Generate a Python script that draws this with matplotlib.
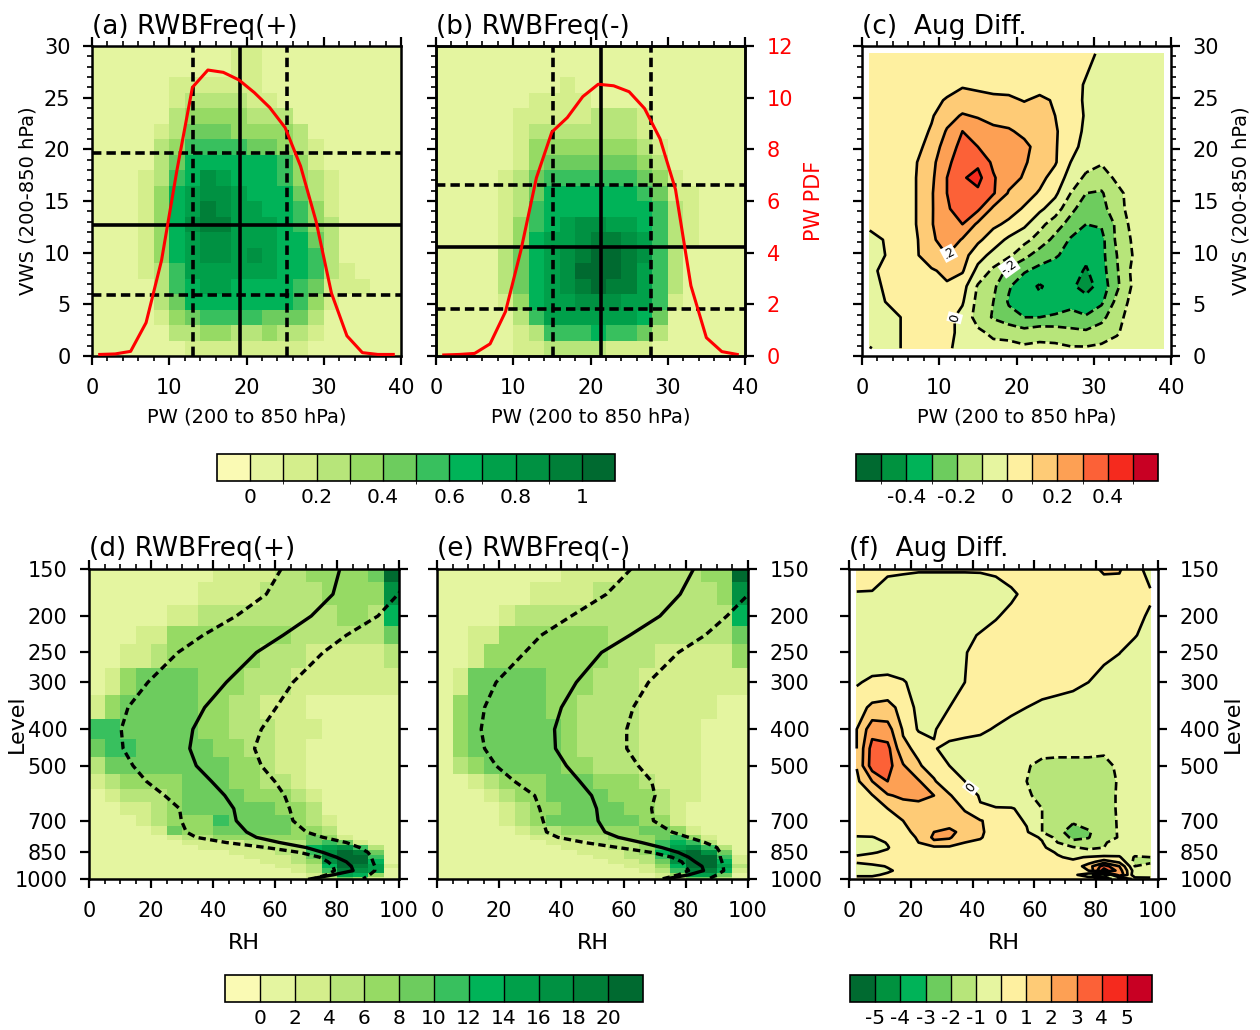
import numpy as np
import matplotlib
matplotlib.use('Agg')
import matplotlib as mpl
import matplotlib.pyplot as plt
from matplotlib.colors import ListedColormap, BoundaryNorm
from matplotlib.ticker import MultipleLocator, FixedLocator, FixedFormatter, NullLocator

plt.rcParams['font.family'] = ['DejaVu Sans']
plt.rcParams['lines.dashed_pattern'] = [3.2, 1.6]

# ---------------- data: PW / VWS panels (a)-(c) ----------------
pw_edges = np.arange(0, 41, 2)
vws_edges_desc = np.arange(30, -0.1, -1.5)          # rows written top -> bottom
pw_centers = np.arange(1, 40, 2)
vws_centers_desc = np.arange(29.25, 0, -1.5)

# RWB frequency (percent), rows from VWS 30 (top) to 0 (bottom)
freq_a_pct = np.array([
    [5,5,5,5,5,5,5,5,5,15,15,5,5,5,5,5,5,5,5,5],
    [5,5,5,5,5,5,5,5,5,15,15,5,5,5,5,5,5,5,5,5],
    [5,5,5,5,5,15,15,15,15,15,15,5,5,5,5,5,5,5,5,5],
    [5,5,5,5,5,15,25,25,25,25,15,15,5,5,5,5,5,5,5,5],
    [5,5,5,5,5,25,35,35,35,35,25,25,25,5,5,5,5,5,5,5],
    [5,5,5,5,15,25,45,45,45,35,35,35,35,25,5,5,5,5,5,5],
    [5,5,5,5,25,35,55,55,55,55,45,45,35,25,15,5,5,5,5,5],
    [5,5,5,5,25,45,65,65,65,65,65,65,55,35,15,5,5,5,5,5],
    [5,5,5,15,25,55,65,85,75,65,65,65,55,35,25,15,5,5,5,5],
    [5,5,5,15,35,65,75,85,85,75,65,65,65,45,25,15,5,5,5,5],
    [5,5,5,15,35,65,75,95,85,75,75,65,65,55,35,15,5,5,5,5],
    [5,5,5,15,35,65,85,95,95,75,75,75,65,55,35,25,5,5,5,5],
    [5,5,5,15,35,65,75,85,85,75,75,75,65,65,45,25,5,5,5,5],
    [5,5,5,15,35,65,75,85,85,75,85,75,65,65,55,25,5,5,5,5],
    [5,5,5,15,25,55,75,75,75,75,75,75,65,65,55,25,15,5,5,5],
    [5,5,5,5,25,55,65,75,75,65,65,65,65,55,45,15,15,15,5,5],
    [5,5,5,5,25,45,65,65,65,65,65,65,65,55,35,15,5,5,5,5],
    [5,5,5,5,15,35,45,55,55,55,55,45,45,45,25,5,5,5,5,5],
    [5,5,5,5,5,25,25,35,35,25,25,35,25,25,15,5,5,5,5,5],
    [5,5,5,5,5,5,15,15,15,15,15,15,15,15,5,5,5,5,5,5],
])
freq_b_pct = np.array([
    [5,5,5,5,5,5,5,5,5,5,5,5,5,5,5,5,5,5,5,5],
    [5,5,5,5,5,5,5,5,5,5,5,5,5,5,5,5,5,5,5,5],
    [5,5,5,5,5,5,5,5,15,5,5,5,5,5,5,5,5,5,5,5],
    [5,5,5,5,5,5,15,15,15,15,5,5,5,5,5,5,5,5,5,5],
    [5,5,5,5,5,15,15,15,15,15,25,25,25,15,5,5,5,5,5,5],
    [5,5,5,5,5,15,25,25,25,25,25,25,25,15,5,5,5,5,5,5],
    [5,5,5,5,5,15,35,35,35,35,35,35,35,25,15,5,5,5,5,5],
    [5,5,5,5,5,15,35,45,45,45,45,45,45,35,25,5,5,5,5,5],
    [5,5,5,5,15,25,45,55,55,55,55,55,55,45,35,15,5,5,5,5],
    [5,5,5,5,15,25,45,65,65,65,65,65,65,55,45,15,15,5,5,5],
    [5,5,5,5,15,25,55,65,65,65,65,65,65,65,55,25,15,5,5,5],
    [5,5,5,5,15,35,55,65,75,85,85,75,75,65,55,25,15,5,5,5],
    [5,5,5,5,15,35,65,75,75,85,95,95,85,75,55,25,15,5,5,5],
    [5,5,5,5,25,45,65,75,85,95,105,105,95,85,55,25,5,5,5,5],
    [5,5,5,5,25,45,65,75,85,105,105,105,95,75,55,25,5,5,5,5],
    [5,5,5,5,25,45,65,75,85,95,105,95,95,75,55,25,5,5,5,5],
    [5,5,5,5,15,35,65,75,75,85,85,85,75,75,55,15,5,5,5,5],
    [5,5,5,5,5,25,55,75,75,75,75,75,75,65,45,5,5,5,5,5],
    [5,5,5,5,5,15,25,55,55,55,65,55,55,45,25,5,5,5,5,5],
    [5,5,5,5,5,15,15,25,25,25,25,15,15,15,5,5,5,5,5,5],
])
freq_a = freq_a_pct / 100.0
freq_b = freq_b_pct / 100.0

# August difference, rows from VWS 29.25 (top) to 0.75 (bottom)
diff_c = np.array([
    [0.05,0.05,0.05,0.05,0.05,0.05,0.05,0.05,0.05,0.05,0.05,0.05,0.05,0.05,0.03,-0.02,-0.05,-0.05,-0.05,-0.05],
    [0.05,0.05,0.05,0.05,0.05,0.05,0.05,0.05,0.05,0.05,0.05,0.05,0.05,0.05,0.01,-0.04,-0.05,-0.05,-0.05,-0.05],
    [0.05,0.05,0.05,0.05,0.05,0.06,0.09,0.08,0.07,0.06,0.06,0.06,0.05,0.04,-0.01,-0.05,-0.05,-0.05,-0.05,-0.05],
    [0.05,0.05,0.05,0.05,0.07,0.11,0.14,0.13,0.12,0.12,0.095,0.12,0.09,0.03,-0.01,-0.05,-0.05,-0.05,-0.05,-0.05],
    [0.05,0.05,0.05,0.05,0.09,0.16,0.21,0.19,0.17,0.16,0.15,0.13,0.10,0.05,-0.01,-0.05,-0.05,-0.05,-0.05,-0.05],
    [0.05,0.05,0.05,0.06,0.11,0.21,0.30,0.26,0.22,0.21,0.18,0.14,0.11,0.05,-0.02,-0.05,-0.05,-0.05,-0.05,-0.05],
    [0.05,0.05,0.05,0.07,0.14,0.25,0.33,0.30,0.27,0.24,0.22,0.17,0.11,0.03,-0.03,-0.05,-0.05,-0.05,-0.05,-0.05],
    [0.05,0.05,0.05,0.095,0.17,0.28,0.35,0.38,0.28,0.25,0.21,0.16,0.11,0.0,-0.06,-0.09,-0.06,-0.05,-0.05,-0.05],
    [0.05,0.05,0.05,0.10,0.18,0.30,0.39,0.43,0.31,0.24,0.19,0.13,0.06,-0.04,-0.12,-0.15,-0.08,-0.05,-0.05,-0.05],
    [0.05,0.05,0.05,0.10,0.19,0.30,0.36,0.38,0.31,0.19,0.14,0.09,0.02,-0.10,-0.20,-0.21,-0.13,-0.06,-0.05,-0.05],
    [0.04,0.04,0.04,0.10,0.19,0.29,0.34,0.32,0.18,0.14,0.09,0.02,-0.05,-0.17,-0.26,-0.24,-0.13,-0.07,-0.05,-0.05],
    [0.02,0.01,0.04,0.10,0.19,0.30,0.30,0.18,0.12,0.08,0.02,-0.07,-0.15,-0.24,-0.30,-0.29,-0.18,-0.07,-0.05,-0.05],
    [-0.03,0.005,0.04,0.09,0.17,0.28,0.19,0.12,0.05,-0.02,-0.07,-0.14,-0.23,-0.31,-0.36,-0.33,-0.18,-0.09,-0.05,-0.05],
    [-0.01,0.0,0.04,0.09,0.15,0.20,0.14,0.04,-0.03,-0.08,-0.17,-0.25,-0.29,-0.33,-0.38,-0.33,-0.20,-0.10,-0.05,-0.05],
    [-0.01,0.01,0.04,0.07,0.09,0.12,0.11,-0.03,-0.12,-0.23,-0.29,-0.33,-0.34,-0.36,-0.41,-0.34,-0.21,-0.08,-0.05,-0.05],
    [-0.03,0.01,0.04,0.06,0.08,0.09,0.04,-0.11,-0.18,-0.29,-0.36,-0.41,-0.36,-0.38,-0.44,-0.36,-0.22,-0.09,-0.05,-0.05],
    [-0.04,0.0,0.03,0.05,0.06,0.05,0.01,-0.13,-0.20,-0.31,-0.35,-0.38,-0.34,-0.33,-0.36,-0.32,-0.17,-0.07,-0.05,-0.05],
    [-0.05,-0.03,0.0,0.03,0.04,0.03,-0.03,-0.14,-0.21,-0.27,-0.30,-0.30,-0.29,-0.27,-0.29,-0.23,-0.13,-0.06,-0.05,-0.05],
    [-0.05,-0.04,0.0,0.02,0.03,0.02,-0.02,-0.08,-0.12,-0.12,-0.16,-0.13,-0.14,-0.17,-0.18,-0.15,-0.11,-0.05,-0.05,-0.05],
    [0.005,-0.03,0.0,0.02,0.02,0.01,-0.02,-0.05,-0.07,-0.08,-0.08,-0.08,-0.08,-0.09,-0.09,-0.08,-0.06,-0.05,-0.05,-0.05],
])

# PW PDF (red curves), at PW bin centres
pdf_a = [0.06, 0.08, 0.18, 1.29, 3.70, 7.2, 10.4, 11.07, 10.98, 10.69,
         10.2, 9.62, 8.84, 7.35, 5.22, 2.43, 0.78, 0.13, 0.06, 0.06]
pdf_b = [0.04, 0.06, 0.10, 0.47, 1.72, 4.1, 6.90, 8.67, 9.23, 10.04,
         10.52, 10.46, 10.23, 9.58, 8.41, 6.45, 2.72, 0.71, 0.17, 0.06]

# mean (solid) and +/- spread (dashed) lines
pw_lines_a = {'mean': 19.1, 'lo': 13.1, 'hi': 25.2}
vws_lines_a = {'mean': 12.7, 'lo': 5.9, 'hi': 19.6}
pw_lines_b = {'mean': 21.4, 'lo': 15.15, 'hi': 27.8}
vws_lines_b = {'mean': 10.55, 'lo': 4.53, 'hi': 16.57}

# ---------------- data: RH / Level panels (d)-(f) ----------------
plev = np.array([150, 175, 200, 225, 250, 300, 350, 400, 450, 500, 550, 600, 650,
                 700, 750, 775, 800, 825, 850, 875, 900, 925, 950, 975, 1000])
rh_edges = np.arange(0, 101, 5)
rh_centers = np.arange(2.5, 100, 5)
p_edges = np.concatenate([[150], (plev[:-1] + plev[1:]) / 2, [1000]])

freq_d = np.array([
    [1,1,1,1,1,1,1,1,3,3,3,3,5,5,7,7,7,7,9,21],
    [1,1,1,1,1,1,1,3,3,3,3,5,5,5,5,7,7,7,7,17],
    [1,1,1,1,1,3,3,5,5,5,5,5,5,5,5,5,7,7,5,13],
    [1,1,1,3,3,7,7,7,7,7,7,7,7,5,5,5,5,5,5,9],
    [1,1,3,3,5,7,7,7,7,7,7,5,5,5,3,3,3,3,3,5],
    [1,3,7,9,9,9,9,7,7,7,5,5,5,3,3,3,3,3,3,3],
    [3,7,9,9,9,9,9,7,7,5,5,3,3,3,1,1,1,1,1,1],
    [11,11,9,9,9,9,9,7,7,5,5,5,3,3,3,1,1,1,1,1],
    [9,11,11,9,9,9,9,9,7,7,5,5,3,3,1,1,1,1,1,1],
    [5,9,9,9,9,9,9,9,9,7,7,5,3,3,1,1,1,1,1,1],
    [3,5,7,7,7,7,9,9,9,7,7,5,5,3,1,1,1,1,1,1],
    [1,3,5,5,5,7,9,9,9,9,7,7,7,5,3,1,1,1,1,1],
    [1,1,3,3,5,7,9,9,9,9,9,9,7,7,5,1,1,1,1,1],
    [1,1,1,3,5,7,7,7,11,9,9,9,9,7,5,3,1,1,1,1],
    [1,1,1,1,3,9,7,7,9,9,9,9,9,7,7,5,1,1,1,1],
    [1,1,1,1,1,3,5,5,7,7,7,7,7,7,9,7,3,1,1,1],
    [1,1,1,1,1,1,3,3,3,3,5,5,5,5,9,11,9,3,1,1],
    [1,1,1,1,1,1,1,3,3,3,3,5,5,5,13,15,17,11,5,1],
    [1,1,1,1,1,1,1,1,1,3,3,3,5,5,11,17,21,19,9,1],
    [1,1,1,1,1,1,1,1,1,1,3,3,3,5,9,19,21,21,11,1],
    [1,1,1,1,1,1,1,1,1,1,1,3,3,5,7,17,21,21,13,1],
    [1,1,1,1,1,1,1,1,1,1,1,1,3,3,5,13,21,19,15,3],
    [1,1,1,1,1,1,1,1,1,1,1,1,1,3,5,11,19,17,15,1],
    [1,1,1,1,1,1,1,1,1,1,1,1,1,1,3,7,15,13,7,1],
    [1,1,1,1,1,1,1,1,1,1,1,1,1,1,3,5,9,7,3,1],
])
freq_e = np.array([
    [1,1,1,1,1,1,1,1,3,3,3,3,5,5,5,5,5,7,7,21],
    [1,1,1,1,1,1,3,3,3,3,5,5,5,5,5,5,5,5,7,17],
    [1,1,1,1,3,5,5,5,5,5,5,5,5,5,5,5,5,5,5,13],
    [1,1,3,3,7,7,7,7,7,7,7,5,5,5,5,5,5,5,5,9],
    [1,1,3,7,7,7,7,7,7,7,7,5,5,5,3,3,3,3,3,7],
    [1,3,9,9,9,9,9,7,7,7,5,5,5,3,3,3,3,3,3,3],
    [1,7,9,9,9,9,9,7,7,5,5,5,5,3,3,3,3,3,1,1],
    [1,7,9,9,9,9,9,9,7,5,5,5,5,3,3,3,3,1,1,1],
    [1,7,9,9,9,9,9,9,7,5,5,5,5,3,3,3,3,1,1,1],
    [1,5,7,9,9,9,9,9,7,7,5,5,5,3,3,3,3,1,1,1],
    [1,1,3,5,7,7,7,9,9,9,7,7,7,5,3,3,3,1,1,1],
    [1,1,1,3,5,7,7,9,9,9,9,7,7,7,5,3,3,1,1,1],
    [1,1,1,1,3,5,7,7,9,9,9,9,7,7,5,3,1,1,1,1],
    [1,1,1,1,3,5,7,9,9,9,9,9,9,7,7,3,1,1,1,1],
    [1,1,1,1,1,3,5,5,7,7,7,7,7,9,9,7,3,1,1,1],
    [1,1,1,1,1,1,3,3,5,5,5,7,7,7,9,11,7,3,1,1],
    [1,1,1,1,1,1,1,3,3,3,5,5,5,7,11,13,11,5,1,1],
    [1,1,1,1,1,1,1,1,3,3,3,5,5,7,11,15,17,11,5,1],
    [1,1,1,1,1,1,1,1,1,3,3,3,5,7,13,19,21,17,9,1],
    [1,1,1,1,1,1,1,1,1,1,3,3,5,5,11,19,21,21,11,3],
    [1,1,1,1,1,1,1,1,1,1,1,3,3,5,9,17,21,21,13,3],
    [1,1,1,1,1,1,1,1,1,1,1,1,3,3,7,13,21,21,15,5],
    [1,1,1,1,1,1,1,1,1,1,1,1,1,3,5,11,19,19,13,3],
    [1,1,1,1,1,1,1,1,1,1,1,1,1,1,3,7,15,15,9,1],
    [1,1,1,1,1,1,1,1,1,1,1,1,1,1,3,5,9,9,5,1],
])

# RH percentiles per level (dashed: 10th / 90th, solid: median)
rh_p10_d = [62.0, 57.2, 47.5, 36.8, 28.7, 19.0, 12.6, 10.4, 11.0, 14.2, 18.5, 24.4, 29.2,
            29.8, 31.4, 34.6, 44.3, 57.2, 68.0, 74.4, 77.1, 78.7, 79.2, 76.6, 72.3]
rh_p50_d = [80.9, 78.7, 71.7, 62.6, 54.0, 44.3, 37.3, 33.5, 32.5, 34.6, 39.5, 43.8, 46.7,
            47.5, 50.8, 54.0, 61.5, 70.1, 75.5, 79.8, 83.0, 84.6, 85.2, 78.7, 71.2]
rh_p90_d = [106.0, 99.7, 93.2, 83.0, 75.5, 65.8, 60.4, 55.6, 53.4, 55.6, 59.9, 63.1, 64.7,
            65.8, 70.1, 75.5, 83.0, 87.3, 90.0, 91.1, 91.6, 92.2, 92.2, 90.5, 88.4]
rh_p10_e = [62.4, 54.5, 43.2, 33.5, 28.2, 19.0, 15.3, 14.2, 15.3, 19.0, 24.9, 31.4, 33.0,
            34.1, 35.2, 38.9, 47.5, 58.3, 69.0, 75.5, 78.7, 79.8, 80.9, 77.6, 72.3]
rh_p50_e = [82.5, 78.2, 71.7, 62.0, 52.9, 44.8, 40.0, 37.8, 38.1, 41.6, 45.9, 49.7, 51.3,
            51.8, 54.0, 58.3, 65.8, 72.3, 77.6, 80.9, 83.0, 85.2, 85.7, 80.9, 73.3]
rh_p90_e = [106.0, 100.2, 93.2, 86.2, 77.6, 68.0, 63.1, 61.0, 61.0, 64.7, 69.0, 70.1, 69.0,
            69.6, 75.5, 80.9, 86.2, 90.0, 91.0, 91.1, 91.6, 92.0, 92.2, 90.0, 87.3]

diff_f = np.array([
    [0.4,0.3,0.2,0.15,0.1,0.1,0.1,0.1,0.1,0.2,0.5,0.6,0.6,0.6,0.7,0.8,1.1,1.1,0.3,-0.3],
    [-0.05,-0.05,-0.5,-0.6,-0.7,-0.7,-0.7,-0.7,-0.6,-0.5,-0.2,0.3,0.5,0.5,0.5,0.5,0.6,0.5,0.3,0.1],
    [-0.5,-0.6,-0.7,-0.7,-0.8,-0.8,-0.8,-0.7,-0.5,-0.1,0.3,0.5,0.6,0.6,0.6,0.6,0.5,0.4,0.2,-0.1],
    [-0.6,-0.7,-0.8,-0.8,-0.9,-0.9,-0.8,-0.3,0.1,0.4,0.6,0.6,0.7,0.7,0.6,0.5,0.4,0.3,0.05,-0.3],
    [-0.6,-0.7,-0.8,-0.9,-0.9,-0.9,-0.7,-0.05,0.3,0.5,0.6,0.7,0.7,0.6,0.5,0.4,0.2,0.02,-0.3,-0.5],
    [-0.1,0.2,0.3,0.1,-0.4,-0.6,-0.4,0.0,0.4,0.6,0.7,0.7,0.6,0.5,0.3,0.0,-0.3,-0.5,-0.6,-0.6],
    [0.6,1.2,1.3,0.7,-0.3,-0.3,0.0,0.5,0.6,0.5,0.3,0.0,-0.3,-0.5,-0.6,-0.6,-0.6,-0.6,-0.5,-0.5],
    [1.0,2.6,2.4,0.9,-0.1,-0.05,0.3,0.3,0.2,-0.1,-0.5,-0.6,-0.6,-0.6,-0.6,-0.7,-0.8,-0.7,-0.6,-0.5],
    [1.0,3.4,3.3,1.2,0.8,0.05,-0.2,-0.4,-0.5,-0.6,-0.7,-0.7,-0.6,-0.6,-0.6,-0.7,-0.8,-0.7,-0.6,-0.5],
    [1.05,3.5,3.4,2.1,1.1,0.6,0.0,-0.4,-0.6,-0.7,-0.8,-0.9,-1.3,-1.4,-1.4,-1.3,-1.3,-0.8,-0.6,-0.5],
    [0.8,2.0,3.0,2.4,2.1,1.1,0.3,0.0,-0.3,-0.5,-0.7,-1.0,-1.4,-1.5,-1.5,-1.5,-1.4,-0.9,-0.6,-0.5],
    [0.6,0.95,1.9,2.2,2.3,2.0,1.1,0.3,-0.05,-0.4,-0.6,-0.9,-1.2,-1.4,-1.5,-1.4,-1.3,-0.9,-0.6,-0.5],
    [0.4,0.7,1.0,1.5,1.6,1.5,1.3,0.95,0.05,0.05,0.05,-0.2,-1.0,-1.3,-1.4,-1.4,-1.3,-0.9,-0.6,-0.5],
    [0.3,0.4,0.7,1.0,1.3,1.4,1.4,1.2,1.05,0.7,0.3,-0.1,-1.0,-1.5,-1.9,-1.6,-1.4,-0.9,-0.6,-0.5],
    [0.2,0.4,0.7,0.9,1.1,2.0,2.3,1.6,1.1,0.7,0.4,0.1,-1.0,-1.8,-2.3,-2.1,-1.5,-0.9,-0.6,-0.5],
    [-0.05,-0.05,0.3,0.8,1.05,2.2,2.1,1.4,1.05,0.7,0.5,0.3,-0.1,-1.4,-2.2,-2.05,-1.3,-0.95,-0.6,-0.5],
    [-0.4,-0.3,0.05,0.6,1.0,1.8,1.7,1.0,0.9,0.6,0.5,0.3,0.05,-1.0,-1.8,-1.7,-1.1,-0.6,-0.5,-0.5],
    [-0.4,-0.3,-0.05,0.5,0.7,0.8,0.8,0.7,0.6,0.5,0.4,0.3,0.1,-0.3,-0.9,-1.2,-1.0,-0.6,-0.5,-0.4],
    [-0.2,-0.05,0.1,0.4,0.5,0.6,0.6,0.5,0.5,0.4,0.4,0.3,0.2,-0.05,-0.5,-0.6,-0.6,-0.4,-0.6,-0.4],
    [0.1,0.2,0.3,0.4,0.4,0.5,0.5,0.5,0.4,0.4,0.3,0.3,0.2,0.05,-0.1,0.05,0.2,0.1,-1.1,-1.0],
    [0.1,0.3,0.4,0.4,0.4,0.4,0.4,0.4,0.4,0.4,0.3,0.3,0.2,0.1,0.1,0.6,1.5,0.8,-1.3,-1.2],
    [-0.3,-0.2,0.05,0.3,0.4,0.4,0.4,0.4,0.3,0.3,0.3,0.3,0.2,0.1,0.3,1.5,3.5,2.0,-1.0,-0.6],
    [-0.3,-0.3,-0.1,0.2,0.3,0.3,0.3,0.3,0.3,0.3,0.3,0.2,0.2,0.1,0.3,1.0,4.5,2.5,-0.5,-0.3],
    [-0.1,-0.1,0.1,0.3,0.3,0.3,0.3,0.3,0.3,0.3,0.3,0.2,0.2,0.1,0.2,-0.5,-3.0,3.0,-0.8,-0.2],
    [0.2,0.2,0.3,0.3,0.3,0.3,0.3,0.3,0.3,0.3,0.2,0.2,0.2,0.1,0.1,0.5,2.0,-2.0,0.5,0.1],
])

p_ticks = [150, 200, 250, 300, 400, 500, 700, 850, 1000]

# contour labels: (level, x, y)
labels_c = [(0.2, 11.6, 9.7), (-0.2, 19.1, 8.5), (0.0, 11.9, 3.7)]
labels_f = [(0, 39.2, 573)]

# ---------------- colours / levels ----------------
freq_colors = ['#FAFAB4', '#E4F5A0', '#D4EE8C', '#B7E57A', '#96DA64', '#6DCC5E',
               '#38C05E', '#00B358', '#00A04A', '#009142', '#007F38', '#006A30']
diff_colors = ['#006A30', '#00923F', '#00B358', '#6DCC5E', '#B7E57A', '#E6F5A0',
               '#FEF0A0', '#FECB76', '#FDA054', '#FC6137', '#F52A1E', '#C80023']
cmap_freq = ListedColormap(freq_colors)
cmap_diff = ListedColormap(diff_colors)

lev_pw = np.round(np.arange(0, 1.01, 0.1), 1)
lev_pw_diff = np.round(np.arange(-0.5, 0.51, 0.1), 1)
lev_rh = np.arange(0, 21, 2)
lev_rh_diff = np.arange(-5, 6, 1)

norm_pw = BoundaryNorm(lev_pw, 12, extend='both')
norm_pw_diff = BoundaryNorm(lev_pw_diff, 12, extend='both')
norm_rh = BoundaryNorm(lev_rh, 12, extend='both')
norm_rh_diff = BoundaryNorm(lev_rh_diff, 12, extend='both')

# ---------------- figure ----------------
W, H = 1260, 1030
fig = plt.figure(figsize=(W / 100, H / 100), dpi=100)

FS_TICK = 15
FS_TITLE = 19
FS_LAB = 14
DASH = (0, (2.6, 1.4))
CLW = 1.9


def px_rect(x0, y0, x1, y1):
    return [x0 / W, 1 - y1 / H, (x1 - x0) / W, (y1 - y0) / H]


def frame(ax):
    for s in ax.spines.values():
        s.set_linewidth(1.8)
    ax.tick_params(which='both', direction='out', top=True, right=True,
                   labelsize=FS_TICK, pad=9)
    ax.tick_params(which='major', length=6.5, width=1.6)
    ax.tick_params(which='minor', length=3.5, width=1.2)


def short_fmt(v):
    if abs(v) < 1e-9:
        return '0'
    return ('%.1f' % v).replace('0.', '.')


def add_labels(ax, x, y, z, spec, fmt):
    # one single-level contour per label so clabel picks that exact line
    for lev, lx, ly in spec:
        cs = ax.contour(x, y, z, levels=[lev], colors='k', linewidths=CLW,
                        linestyles='dashed' if lev < 0 else 'solid')
        txt = ax.clabel(cs, manual=[(lx, ly)], fmt=fmt, fontsize=9,
                        inline=True, inline_spacing=2)
        for t in txt:
            t.set_bbox(dict(facecolor='white', edgecolor='none', pad=0.6))


def pw_axes(ax):
    ax.set_xlim(0, 40)
    ax.set_ylim(0, 30)
    ax.xaxis.set_major_locator(MultipleLocator(10))
    ax.xaxis.set_minor_locator(MultipleLocator(2))
    ax.yaxis.set_major_locator(MultipleLocator(5))
    ax.yaxis.set_minor_locator(MultipleLocator(1))
    frame(ax)
    ax.set_xlabel('PW (200 to 850 hPa)', fontsize=FS_LAB, labelpad=7)


def freq_panel(rect, freq, pdf, pw_l, vws_l, title):
    ax = fig.add_axes(px_rect(*rect))
    ax.pcolormesh(pw_edges, vws_edges_desc, freq, cmap=cmap_freq, norm=norm_pw,
                  shading='flat', antialiased=False)
    ax.axvline(pw_l['mean'], color='k', lw=2.6)
    ax.axhline(vws_l['mean'], color='k', lw=2.6)
    for k in ('lo', 'hi'):
        ax.axvline(pw_l[k], color='k', lw=2.6, ls=DASH)
        ax.axhline(vws_l[k], color='k', lw=2.6, ls=DASH)
    pw_axes(ax)
    ax.set_title(title, loc='left', fontsize=FS_TITLE, pad=9)
    tw = ax.twinx()
    tw.plot(pw_centers, pdf, color='#FF0000', lw=2.2)
    tw.set_ylim(0, 12)
    return ax, tw


ax_a, tw_a = freq_panel((92, 46, 401, 356), freq_a, pdf_a, pw_lines_a, vws_lines_a,
                        '(a) RWBFreq(+)')
ax_a.set_ylabel('VWS (200-850 hPa)', fontsize=FS_LAB, labelpad=5)
tw_a.axis('off')

ax_b, tw_b = freq_panel((436, 46, 745, 356), freq_b, pdf_b, pw_lines_b, vws_lines_b,
                        '(b) RWBFreq(-)')
ax_b.tick_params(axis='y', labelleft=False)
tw_b.yaxis.set_major_locator(MultipleLocator(2))
tw_b.yaxis.set_minor_locator(NullLocator())
for s in tw_b.spines.values():
    s.set_linewidth(1.8)
tw_b.tick_params(axis='y', direction='out', length=6.5, width=1.6, labelsize=FS_TICK,
                 pad=9, labelcolor='#FF0000')
tw_b.set_ylabel('PW PDF', color='#FF0000', fontsize=15, labelpad=8)

# (c) difference
ax_c = fig.add_axes(px_rect(862, 46, 1171, 356))
ax_c.contourf(pw_centers, vws_centers_desc, diff_c, levels=lev_pw_diff,
              cmap=cmap_diff, norm=norm_pw_diff, extend='both')
other_c = [v for v in lev_pw_diff if v not in [s[0] for s in labels_c]]
ax_c.contour(pw_centers, vws_centers_desc, diff_c, levels=other_c,
             colors='k', linewidths=CLW,
             linestyles=['dashed' if v < 0 else 'solid' for v in other_c])
add_labels(ax_c, pw_centers, vws_centers_desc, diff_c, labels_c, short_fmt)
pw_axes(ax_c)
ax_c.tick_params(axis='y', labelleft=False, labelright=True)
ax_c.yaxis.set_label_position('right')
ax_c.set_ylabel('VWS (200-850 hPa)', fontsize=FS_LAB, labelpad=9)
ax_c.set_title('(c)  Aug Diff.', loc='left', fontsize=FS_TITLE, pad=9)


# (d)-(f)
def level_axes(ax):
    ax.set_yscale('log')
    ax.set_ylim(1000, 150)
    ax.set_xlim(0, 100)
    ax.yaxis.set_major_locator(FixedLocator(p_ticks))
    ax.yaxis.set_major_formatter(FixedFormatter([str(p) for p in p_ticks]))
    ax.yaxis.set_minor_locator(NullLocator())
    ax.xaxis.set_major_locator(MultipleLocator(20))
    ax.xaxis.set_minor_locator(MultipleLocator(5))
    frame(ax)
    ax.set_xlabel('RH', fontsize=16, labelpad=9)


def rh_panel(rect, freq, p10, p50, p90, title):
    ax = fig.add_axes(px_rect(*rect))
    ax.pcolormesh(rh_edges, p_edges, freq, cmap=cmap_freq, norm=norm_rh,
                  shading='flat', antialiased=False)
    ax.plot(p50, plev, color='k', lw=2.4)
    ax.plot(p10, plev, color='k', lw=2.4, ls=(0, (2.2, 1.3)))
    ax.plot(p90, plev, color='k', lw=2.4, ls=(0, (2.2, 1.3)))
    level_axes(ax)
    ax.set_title(title, loc='left', fontsize=FS_TITLE, pad=9)
    return ax


ax_d = rh_panel((89, 569, 399, 879), freq_d, rh_p10_d, rh_p50_d, rh_p90_d, '(d) RWBFreq(+)')
ax_d.set_ylabel('Level', fontsize=16)
ax_d.yaxis.set_label_coords(-0.2, 0.5)
ax_e = rh_panel((437, 569, 748, 879), freq_e, rh_p10_e, rh_p50_e, rh_p90_e, '(e) RWBFreq(-)')
ax_e.tick_params(axis='y', labelleft=False, labelright=True)

ax_f = fig.add_axes(px_rect(849, 569, 1158, 879))
ax_f.contourf(rh_centers, plev, diff_f, levels=lev_rh_diff, cmap=cmap_diff,
              norm=norm_rh_diff, extend='both')
other_f = [v for v in lev_rh_diff if v not in [s[0] for s in labels_f]]
ax_f.contour(rh_centers, plev, diff_f, levels=other_f, colors='k', linewidths=CLW,
             linestyles=['dashed' if v < 0 else 'solid' for v in other_f])
add_labels(ax_f, rh_centers, plev, diff_f, labels_f, short_fmt)
level_axes(ax_f)
ax_f.tick_params(axis='y', labelleft=False, labelright=True)
ax_f.yaxis.set_label_position('right')
ax_f.set_ylabel('Level', fontsize=16)
ax_f.yaxis.set_label_coords(1.21, 0.5)
ax_f.set_title('(f)  Aug Diff.', loc='left', fontsize=FS_TITLE, pad=9)


# colour bars
def bar(rect, cmap, norm, ticks, labels):
    cax = fig.add_axes(px_rect(*rect))
    sm = mpl.cm.ScalarMappable(norm=norm, cmap=cmap)
    cb = fig.colorbar(sm, cax=cax, orientation='horizontal', extend='both',
                      extendrect=True, extendfrac=0.1, drawedges=True)
    cb.set_ticks(ticks, labels=labels)
    cb.ax.tick_params(length=0, labelsize=14.5, pad=5)
    cb.outline.set_linewidth(1.2)
    cb.dividers.set_linewidth(1.0)
    return cb


bar((217, 454, 615, 481), cmap_freq, norm_pw, [0, 0.2, 0.4, 0.6, 0.8, 1.0],
    ['0', '0.2', '0.4', '0.6', '0.8', '1'])
bar((856, 454, 1158, 481), cmap_diff, norm_pw_diff, [-0.4, -0.2, 0, 0.2, 0.4],
    ['-0.4', '-0.2', '0', '0.2', '0.4'])
bar((225, 975, 643, 1002), cmap_freq, norm_rh, list(lev_rh), [str(v) for v in lev_rh])
bar((850, 975, 1152, 1002), cmap_diff, norm_rh_diff, list(lev_rh_diff),
    [str(v) for v in lev_rh_diff])

fig.savefig('out.png', dpi=100)
